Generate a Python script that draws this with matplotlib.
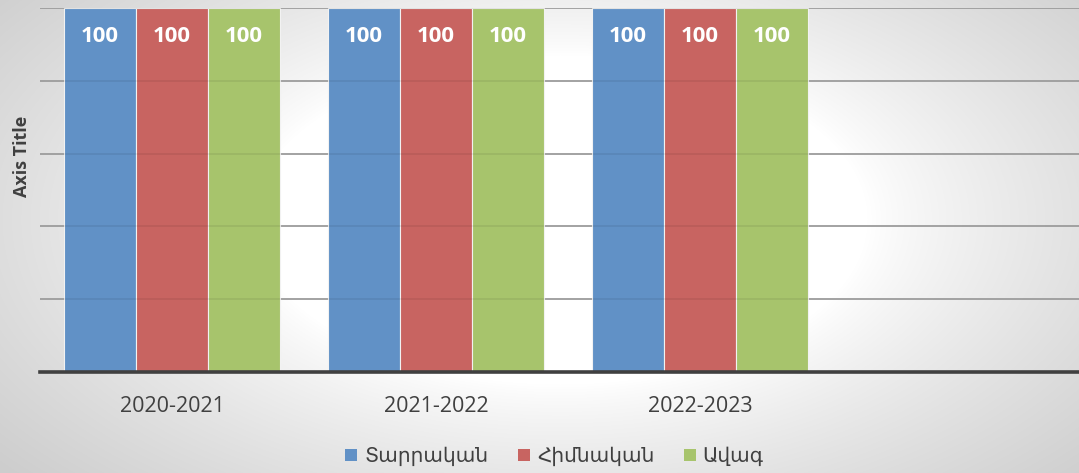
import numpy as np
import matplotlib
matplotlib.use("Agg")
import matplotlib.pyplot as plt
from matplotlib.patches import Patch

# ---- data ----
categories = ["2020-2021", "2021-2022", "2022-2023", ""]
series_names = ["Տարրական", "Հիմնական", "Ավագ"]
tarrakan = [100, 100, 100]
himnakan = [100, 100, 100]
avag = [100, 100, 100]
y_ticks = [0, 20, 40, 60, 80, 100]
axis_title = "Axis Title"

series_values = [tarrakan, himnakan, avag]
colors = ["#6191C6", "#C86461", "#A7C46C"]
text_color = "#404040"

W, H = 1079, 473
fig = plt.figure(figsize=(W / 100, H / 100), dpi=100)

# background gradient
bg = fig.add_axes([0, 0, 1, 1], zorder=-10)
yy, xx = np.mgrid[0:H, 0:W]
v = np.sqrt(((xx - 560) / 560.0) ** 2 + ((yy - 220) / 300.0) ** 2)
t = np.clip((v - 0.55) / 0.75, 0, 1) ** 0.8
g = (255 - 50 * t) / 255.0
img = np.dstack([g, g, g])
bg.imshow(img, aspect="auto", extent=[0, W, H, 0])
bg.set_axis_off()

left = 40 / W
bottom = (H - 372) / H
width = 1056 / W
height = 364 / H
ax = fig.add_axes([left, bottom, width, height])
ax.set_facecolor("none")

x = np.arange(len(categories))
bw = 72 / 264
for i, (vals, c) in enumerate(zip(series_values, colors)):
    pos = x[: len(vals)] + (i - 1) * bw
    bars = ax.bar(pos, vals, width=bw, color=c, edgecolor="#F2F2F2",
                  linewidth=0.8, zorder=2)
    for b, val in zip(bars, vals):
        ax.annotate(f"{val}", (b.get_x() + b.get_width() / 2, val),
                    xytext=(0, -28), textcoords="offset pixels",
                    ha="center", va="center", color="white",
                    fontsize=16, fontweight="bold", family=["Open Sans", "DejaVu Sans"],
                    zorder=4)

ax.set_xlim(-0.5, len(categories) - 0.5)
ax.set_ylim(y_ticks[0], y_ticks[-1])
ax.set_yticks(y_ticks)
ax.set_yticklabels([])
ax.tick_params(axis="y", length=0)
ax.grid(axis="y", color="#A8A8A8", linewidth=1.3, zorder=1)
for yv in y_ticks[1:]:
    ax.axhline(yv, color="black", alpha=0.07, linewidth=1.3, zorder=3)
ax.set_axisbelow(True)

ax.set_xticks(x)
ax.set_xticklabels(categories, fontsize=15.5, color=text_color,
                   family=["Open Sans", "DejaVu Sans"])
ax.tick_params(axis="x", length=0, pad=17)

for s in ["left", "right", "top"]:
    ax.spines[s].set_visible(False)
ax.spines["bottom"].set_color("#404040")
ax.spines["bottom"].set_linewidth(2.6)
ax.spines["bottom"].set_zorder(5)

fig.text(22 / W, 1 - 156 / H, axis_title, rotation=90, ha="center", va="center",
         fontsize=13, fontweight="bold", color=text_color,
         family=["Open Sans", "DejaVu Sans"])

handles = [Patch(facecolor=c, edgecolor="none") for c in colors]
leg = fig.legend(handles, series_names, loc="center",
                 bbox_to_anchor=(554.5 / W, 1 - 457 / H), ncol=3, frameon=False,
                 prop={"family": ["Noto Sans", "DejaVu Sans"], "size": 14.5},
                 handlelength=0.6, handleheight=0.6, handletextpad=0.35,
                 columnspacing=1.45, borderaxespad=0)
for txt in leg.get_texts():
    txt.set_color(text_color)

fig.savefig("out.png", dpi=100)
